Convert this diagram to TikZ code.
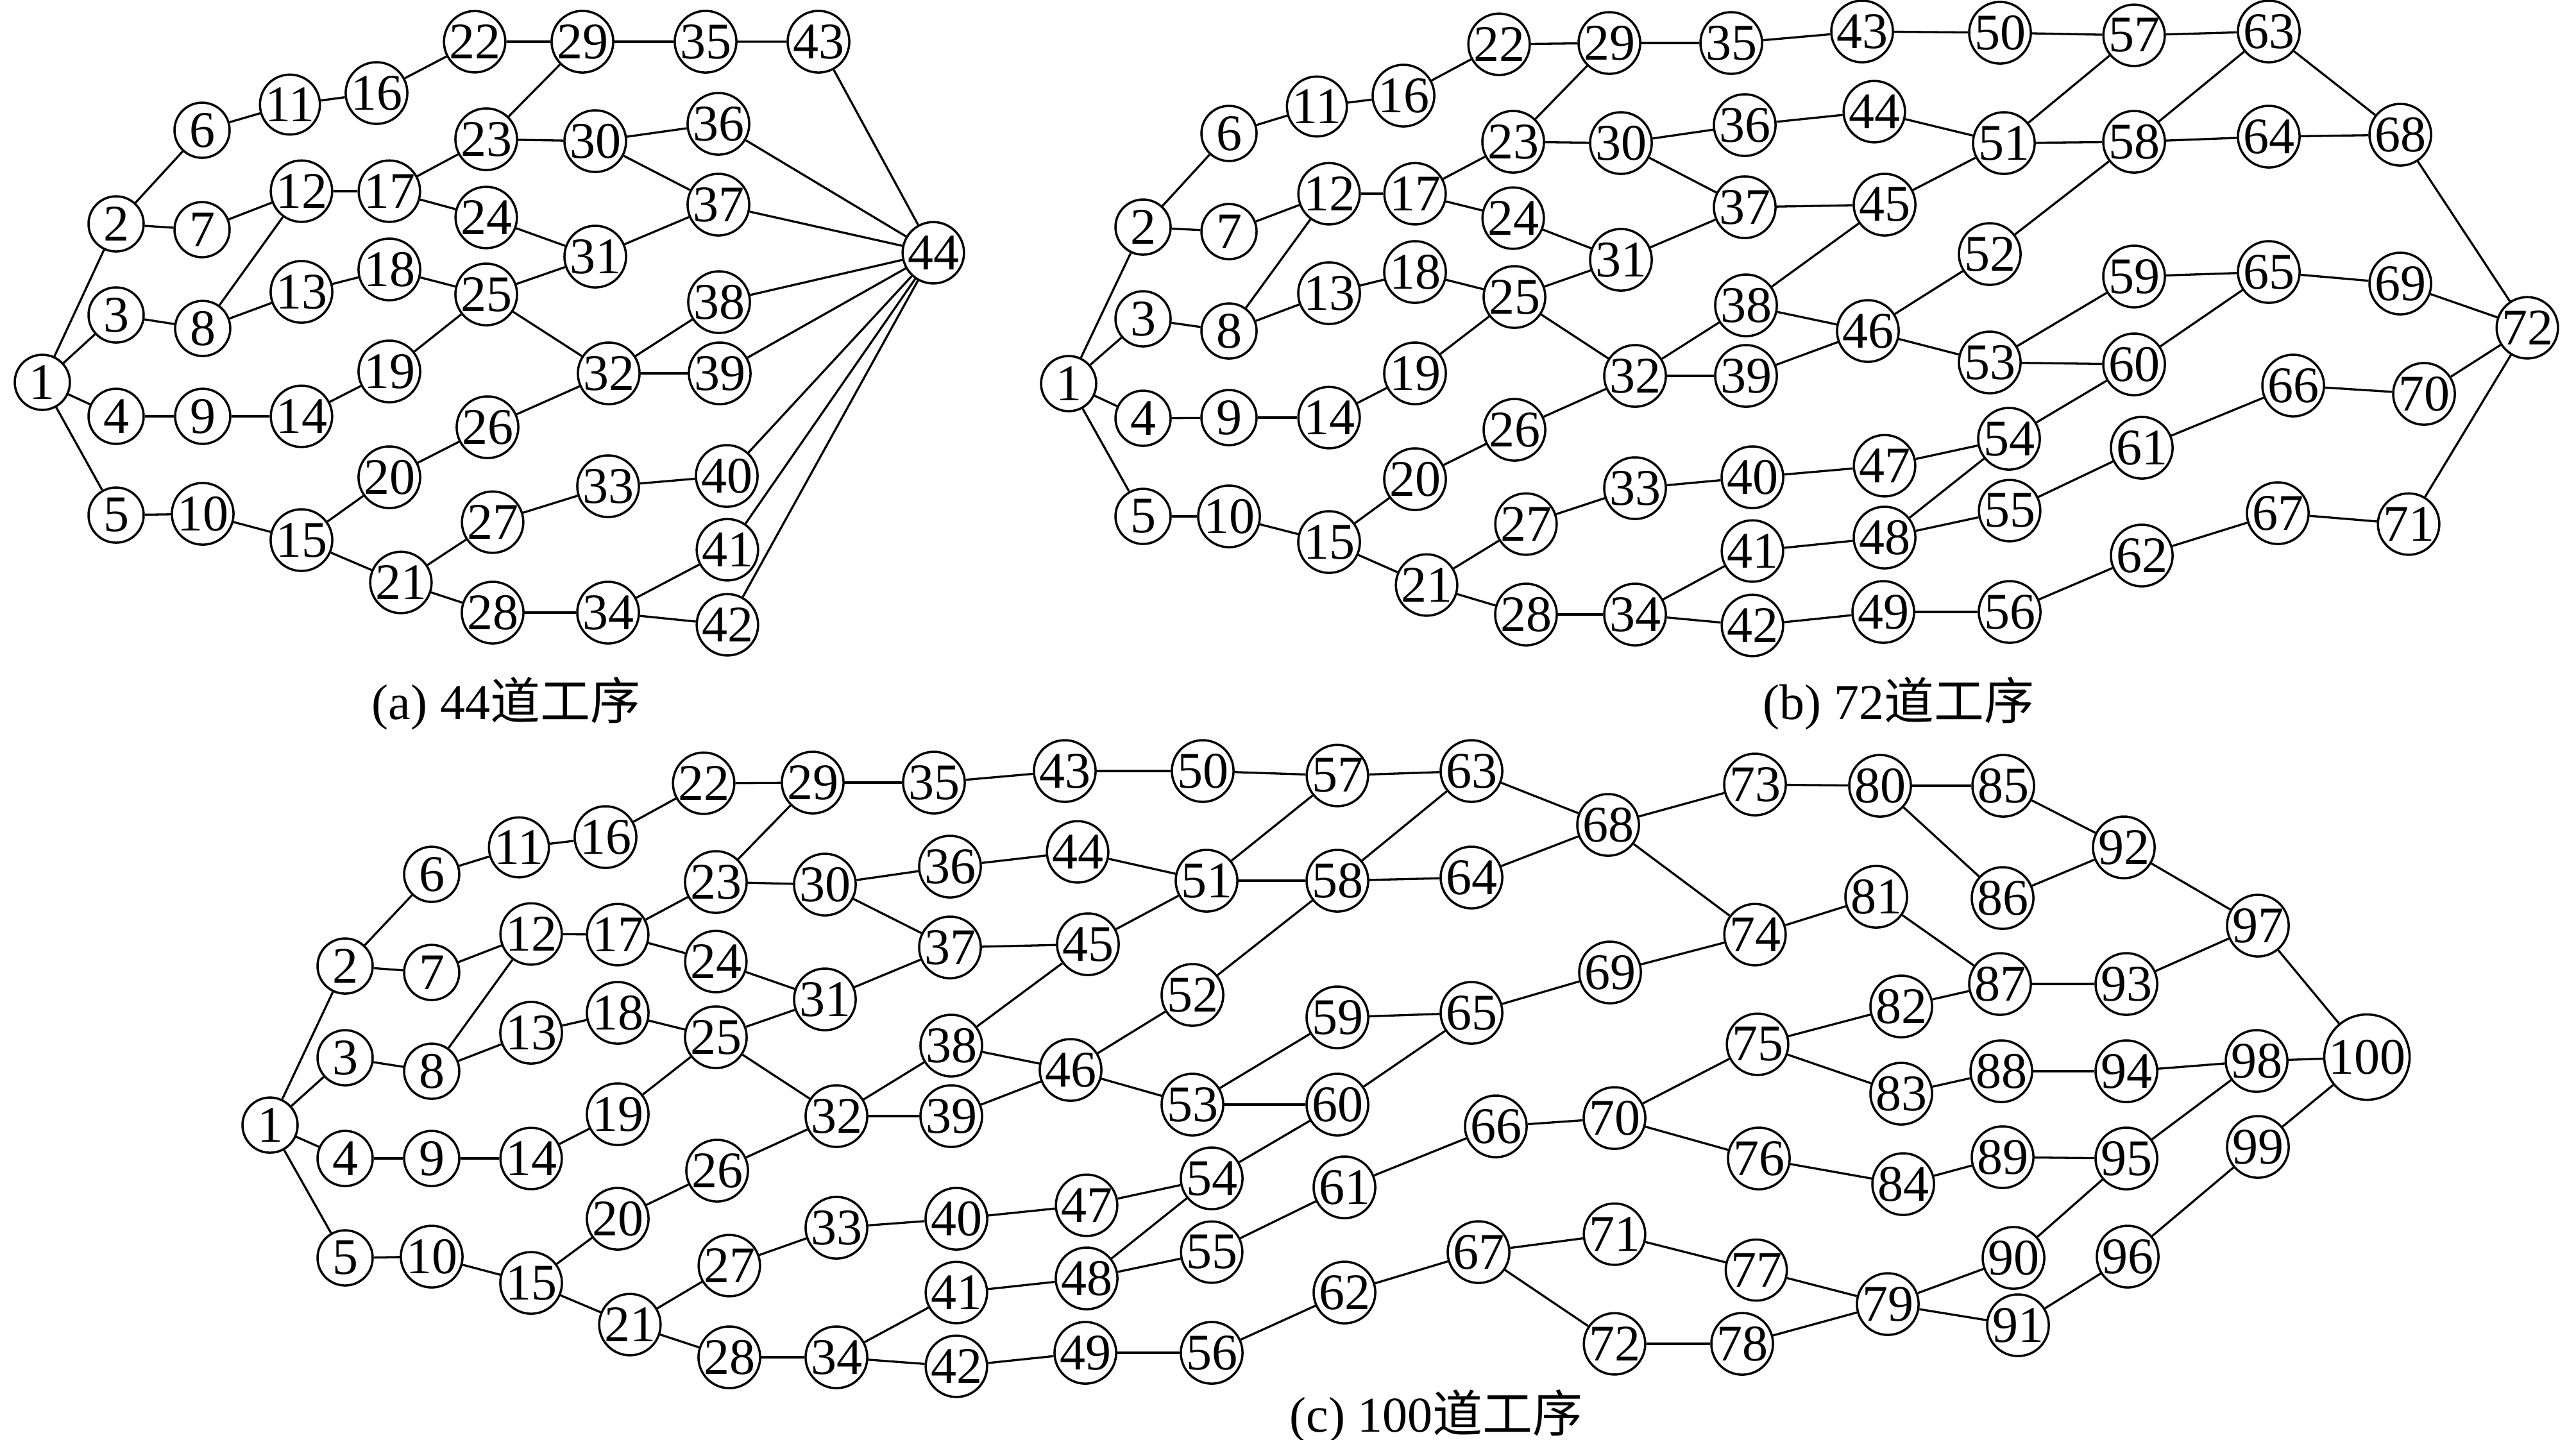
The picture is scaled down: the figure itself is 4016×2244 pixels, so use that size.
\documentclass[tikz,border=0pt]{standalone}
\usepackage{fontspec}
\setmainfont{Liberation Serif}
\newfontfamily\cjk{Noto Sans CJK SC}

\tikzset{
  proc/.style={draw, circle, line width=0.35pt, minimum size=8.6pt, inner sep=0pt,
    font=\fontsize{8}{8}\selectfont},
  bigproc/.style={proc, minimum size=13.3pt},
  link/.style={line width=0.33pt},
  caption/.style={font=\fontsize{7.8}{9}\selectfont, inner sep=0pt}
}

% edges shared by all three networks
\def\headedges{1/2,1/3,1/4,1/5,2/6,2/7,3/8,4/9,5/10,6/11,11/16,16/22,7/12,8/12,8/13,
  9/14,10/15,12/17,13/18,14/19,15/20,15/21,17/23,17/24,18/25,19/25,20/26,21/27,21/28,
  22/29,23/29,23/30,24/31,25/31,25/32,26/32,27/33,28/34,29/35,30/36,30/37,31/37,
  32/38,32/39,33/40,34/41,34/42}
% edges shared by (b) and (c)
\def\midedges{35/43,36/44,37/45,38/45,38/46,39/46,40/47,41/48,42/49,43/50,44/51,45/51,
  46/52,46/53,47/54,48/54,48/55,49/56,50/57,51/57,51/58,52/58,53/59,53/60,54/60,55/61,
  56/62,57/63,58/63,58/64,59/65,60/65,61/66,62/67,63/68,64/68,65/69,66/70,67/71}

\begin{document}
\begin{tikzpicture}[x=0.1pt, y=-0.1pt]
  \useasboundingbox (0,0) rectangle (4016,2244);

  % (a) 44 processes
  \foreach \n/\x/\y in {1/66/596, 2/181/349, 3/181/491, 4/181/649, 5/181/803,
      6/315/203, 7/315/358, 8/316/512, 9/316/649, 10/316/801, 11/452/163, 12/470/298,
      13/470/455, 14/470/649, 15/470/842, 16/587/145, 17/607/298, 18/607/420,
      19/607/579, 20/607/744, 21/625/908, 22/740/65, 23/758/217, 24/758/339,
      25/758/459, 26/760/666, 27/768/814, 28/768/955, 29/908/65, 30/928/220,
      31/928/400, 32/949/582, 33/948/758, 34/948/955, 35/1100/65, 36/1120/193,
      37/1120/319, 38/1121/471, 39/1122/582, 40/1133/742, 41/1134/857, 42/1134/974,
      43/1276/65, 44/1455/394} {
    \node[proc] (a\n) at (\x,\y) {\n};
  }
  \foreach \u/\v in \headedges {
    \draw[link] (a\u) -- (a\v);
  }
  \foreach \u in {35,36,37,38,39,40,41,42} {
    \ifnum\u=35 \draw[link] (a35) -- (a43) -- (a44); \else \draw[link] (a\u) -- (a44); \fi
  }
  \node[caption] (capa) at (789,1097) {(a) 44{\cjk 道工序}};

  % (b) 72 processes
  \foreach \n/\x/\y in {1/1666/598, 2/1782/354, 3/1782/497, 4/1782/652, 5/1782/805,
      6/1916/208, 7/1916/361, 8/1916/516, 9/1916/651, 10/1916/805, 11/2053/166,
      12/2072/302, 13/2072/457, 14/2072/651, 15/2072/845, 16/2188/149, 17/2206/302,
      18/2206/424, 19/2206/582, 20/2206/747, 21/2224/912, 22/2337/69, 23/2359/221,
      24/2359/340, 25/2361/463, 26/2361/670, 27/2379/817, 28/2379/958, 29/2509/67,
      30/2527/223, 31/2527/405, 32/2549/586, 33/2549/761, 34/2549/958, 35/2699/67,
      36/2720/195, 37/2720/323, 38/2722/476, 39/2722/586, 40/2732/744, 41/2732/859,
      42/2732/975, 43/2903/49, 44/2922/174, 45/2938/319, 46/2912/516, 47/2938/726,
      48/2938/838, 49/2936/954, 50/3118/51, 51/3124/223, 52/3102/396, 53/3102/565,
      54/3132/684, 55/3133/796, 56/3133/954, 57/3327/55, 58/3327/221, 59/3327/431,
      60/3327/568, 61/3339/698, 62/3339/866, 63/3537/49, 64/3537/213, 65/3537/424,
      66/3575/601, 67/3551/800, 68/3742/210, 69/3742/442, 70/3779/614, 71/3755/817,
      72/3940/511} {
    \node[proc] (b\n) at (\x,\y) {\n};
  }
  \foreach \u/\v in \headedges {
    \draw[link] (b\u) -- (b\v);
  }
  \foreach \u/\v in \midedges {
    \draw[link] (b\u) -- (b\v);
  }
  \foreach \u in {68,69,70,71} {
    \draw[link] (b\u) -- (b72);
  }
  \node[caption] (capb) at (2960,1097) {(b) 72{\cjk 道工序}};

  % (c) 100 processes
  \foreach \n/\x/\y in {1/421/1754, 2/538/1506, 3/538/1649, 4/538/1806, 5/538/1961,
      6/673/1363, 7/673/1516, 8/673/1670, 9/673/1806, 10/673/1959, 11/809/1321,
      12/828/1456, 13/828/1610, 14/828/1806, 15/828/2000, 16/944/1305, 17/963/1457,
      18/963/1579, 19/963/1737, 20/963/1900, 21/982/2065, 22/1097/1221, 23/1116/1375,
      24/1116/1499, 25/1116/1617, 26/1118/1825, 27/1137/1973, 28/1137/2116,
      29/1267/1220, 30/1286/1379, 31/1286/1558, 32/1304/1740, 33/1304/1914,
      34/1304/2116, 35/1456/1220, 36/1481/1351, 37/1481/1477, 38/1483/1630,
      39/1483/1740, 40/1491/1900, 41/1491/2015, 42/1491/2130, 43/1660/1202,
      44/1680/1328, 45/1696/1472, 46/1669/1668, 47/1694/1879, 48/1694/1993,
      49/1692/2109, 50/1875/1202, 51/1881/1373, 52/1859/1551, 53/1859/1722,
      54/1889/1837, 55/1889/1952, 56/1889/2109, 57/2085/1209, 58/2085/1373,
      59/2085/1586, 60/2085/1722, 61/2096/1851, 62/2096/2015, 63/2294/1202,
      64/2294/1368, 65/2294/1579, 66/2332/1756, 67/2305/1952, 68/2507/1286,
      69/2510/1516, 70/2517/1743, 71/2517/1924, 72/2517/2095, 73/2736/1223,
      74/2736/1457, 75/2740/1628, 76/2742/1806, 77/2738/1980, 78/2716/2095,
      79/2943/2033, 80/2931/1225, 81/2925/1398, 82/2964/1569, 83/2964/1705,
      84/2967/1846, 85/3123/1225, 86/3122/1400, 87/3118/1534, 88/3120/1670,
      89/3122/1804, 90/3139/1961, 91/3146/2066, 92/3311/1321, 93/3315/1534,
      94/3315/1670, 95/3315/1806, 96/3317/1959, 97/3520/1443, 98/3518/1654,
      99/3520/1788} {
    \node[proc] (c\n) at (\x,\y) {\n};
  }
  \node[bigproc] (c100) at (3690,1648) {100};
  \foreach \u/\v in \headedges {
    \draw[link] (c\u) -- (c\v);
  }
  \foreach \u/\v in \midedges {
    \draw[link] (c\u) -- (c\v);
  }
  \foreach \u/\v in {67/72,68/73,68/74,69/74,70/75,70/76,71/77,72/78,73/80,74/81,
      75/82,75/83,76/84,77/79,78/79,80/85,80/86,81/87,82/87,83/88,84/89,79/90,79/91,
      85/92,86/92,87/93,88/94,89/95,90/95,91/96,92/97,93/97,94/98,95/98,96/99,
      97/100,98/100,99/100} {
    \draw[link] (c\u) -- (c\v);
  }
  \node[caption] (capc) at (2239,2208) {(c) 100{\cjk 道工序}};
\end{tikzpicture}
\end{document}
